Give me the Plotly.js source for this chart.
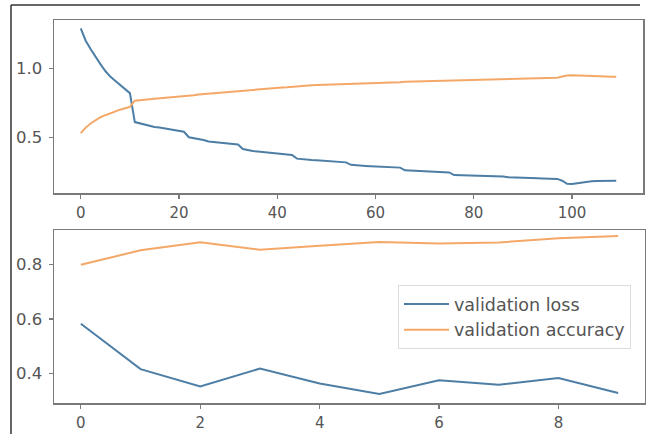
<!DOCTYPE html>
<html>
<head>
<meta charset="utf-8">
<script src="https://cdn.plot.ly/plotly-3.0.1.min.js"></script>
<style>html,body{margin:0;padding:0;background:#fff;}#chart{width:646px;height:434px;}</style>
</head>
<body>
<div id="chart"></div>
<script>
// Top panel: per-step training curves (110 steps)
const topLoss = [
  1.29, 1.20, 1.14, 1.08, 1.03, 0.98, 0.94, 0.91, 0.88, 0.85,
  0.82, 0.61, 0.60, 0.59, 0.58, 0.575, 0.57, 0.565, 0.56, 0.555,
  0.55, 0.54, 0.50, 0.495, 0.49, 0.48, 0.47, 0.465, 0.46, 0.457,
  0.455, 0.452, 0.448, 0.415, 0.405, 0.40, 0.397, 0.393, 0.39, 0.385,
  0.383, 0.38, 0.377, 0.372, 0.345, 0.34, 0.338, 0.335, 0.333, 0.33,
  0.328, 0.325, 0.322, 0.32, 0.318, 0.30, 0.296, 0.294, 0.292, 0.29,
  0.289, 0.288, 0.286, 0.284, 0.282, 0.28, 0.26, 0.258, 0.257, 0.255,
  0.254, 0.252, 0.25, 0.249, 0.247, 0.245, 0.226, 0.225, 0.224, 0.223,
  0.222, 0.221, 0.22, 0.219, 0.218, 0.217, 0.215, 0.21, 0.208, 0.207,
  0.206, 0.205, 0.204, 0.203, 0.202, 0.201, 0.20, 0.198, 0.185, 0.163,
  0.162, 0.168, 0.175, 0.18, 0.182, 0.183, 0.184, 0.184, 0.185, 0.184
];
const topAcc = [
  0.53, 0.57, 0.60, 0.625, 0.645, 0.66, 0.675, 0.69, 0.70, 0.71,
  0.72, 0.765, 0.77, 0.773, 0.776, 0.779, 0.782, 0.785, 0.787, 0.79,
  0.792, 0.795, 0.80, 0.805, 0.81, 0.813, 0.816, 0.819, 0.822, 0.825,
  0.828, 0.831, 0.834, 0.84, 0.845, 0.848, 0.85, 0.853, 0.855, 0.857,
  0.859, 0.861, 0.863, 0.866, 0.872, 0.874, 0.876, 0.877, 0.878, 0.879,
  0.88, 0.882, 0.883, 0.884, 0.885, 0.888, 0.89, 0.891, 0.892, 0.893,
  0.894, 0.895, 0.896, 0.897, 0.898, 0.899, 0.902, 0.903, 0.904, 0.905,
  0.906, 0.907, 0.908, 0.909, 0.91, 0.911, 0.914, 0.915, 0.916, 0.917,
  0.917, 0.918, 0.919, 0.92, 0.92, 0.921, 0.922, 0.924, 0.925, 0.926,
  0.926, 0.927, 0.928, 0.928, 0.929, 0.93, 0.93, 0.932, 0.94, 0.948,
  0.95, 0.948, 0.945, 0.943, 0.942, 0.941, 0.94, 0.94, 0.939, 0.939
];
const topSteps = topLoss.map((_, i) => i);

// Bottom panel: per-epoch validation curves
const epochs = [0, 1, 2, 3, 4, 5, 6, 7, 8, 9];
const valLoss = [0.582, 0.415, 0.351, 0.417, 0.362, 0.323, 0.374, 0.357, 0.382, 0.327];
const valAcc  = [0.800, 0.853, 0.883, 0.855, 0.870, 0.884, 0.878, 0.882, 0.898, 0.906];

const topXTicks = [0, 20, 40, 60, 80, 100];
const topYTicks = [0.5, 1.0];
const topYLabels = ['0.5', '1.0'];
const botXTicks = [0, 2, 4, 6, 8];
const botYTicks = [0.4, 0.6, 0.8];
const botYLabels = ['0.4', '0.6', '0.8'];

const BLUE = '#4d7ea6';
const ORANGE = '#f4a868';

const traces = [
  {x: topSteps, y: topLoss, type: 'scatter', mode: 'lines', line: {color: BLUE, width: 2}, xaxis: 'x', yaxis: 'y', showlegend: false},
  {x: topSteps, y: topAcc, type: 'scatter', mode: 'lines', line: {color: ORANGE, width: 2}, xaxis: 'x', yaxis: 'y', showlegend: false},
  {x: epochs, y: valLoss, type: 'scatter', mode: 'lines', name: 'validation loss', line: {color: BLUE, width: 2}, xaxis: 'x2', yaxis: 'y2'},
  {x: epochs, y: valAcc, type: 'scatter', mode: 'lines', name: 'validation accuracy', line: {color: ORANGE, width: 2}, xaxis: 'x2', yaxis: 'y2'}
];

const axisCommon = {
  showline: true, mirror: true, linecolor: '#7a7a7a', linewidth: 1.5,
  ticks: 'outside', ticklen: 4, tickwidth: 1.2, tickcolor: '#7a7a7a',
  showgrid: false, zeroline: false
};
const yTickStyle = {ticklabelstandoff: 3, tickfont: {family: 'DejaVu Sans', size: 16.5, color: '#555'}};
const xTickStyle = {ticklabelstandoff: 1, tickfont: {family: 'DejaVu Sans', size: 15, color: '#555'}};

const W = 646, H = 434;
const layout = {
  width: W, height: H,
  margin: {l: 0, r: 0, t: 0, b: 0},
  paper_bgcolor: '#fff', plot_bgcolor: '#fff',
  showlegend: true,
  xaxis: Object.assign({}, axisCommon, xTickStyle, {domain: [54 / W, 643 / W], range: [-5.45, 114.45], tickvals: topXTicks, anchor: 'y'}),
  yaxis: Object.assign({}, axisCommon, yTickStyle, {domain: [(H - 193) / H, (H - 20) / H], range: [0.096, 1.35], tickvals: topYTicks, ticktext: topYLabels, anchor: 'x'}),
  xaxis2: Object.assign({}, axisCommon, xTickStyle, {domain: [54 / W, 645 / W], range: [-0.45, 9.45], tickvals: botXTicks, anchor: 'y2'}),
  yaxis2: Object.assign({}, axisCommon, yTickStyle, {domain: [(H - 403) / H, (H - 230) / H], range: [0.29, 0.928], tickvals: botYTicks, ticktext: botYLabels, anchor: 'x2'}),
  legend: {
    x: 398 / W, y: (H - 285) / H, xanchor: 'left', yanchor: 'top',
    bgcolor: 'rgba(255,255,255,0.9)', bordercolor: '#dcdcdc', borderwidth: 1,
    itemwidth: 45,
    font: {family: 'DejaVu Sans', size: 17.5, color: '#555'}
  },
  shapes: [
    {type: 'line', xref: 'paper', yref: 'paper', x0: 11 / W, x1: 640 / W, y0: (H - 5) / H, y1: (H - 5) / H, line: {color: '#333', width: 1.5}},
    {type: 'line', xref: 'paper', yref: 'paper', x0: 11 / W, x1: 11 / W, y0: (H - 5) / H, y1: 0, line: {color: '#333', width: 1.5}}
  ]
};

Plotly.newPlot('chart', traces, layout, {displayModeBar: false, staticPlot: true});
</script>
</body>
</html>
